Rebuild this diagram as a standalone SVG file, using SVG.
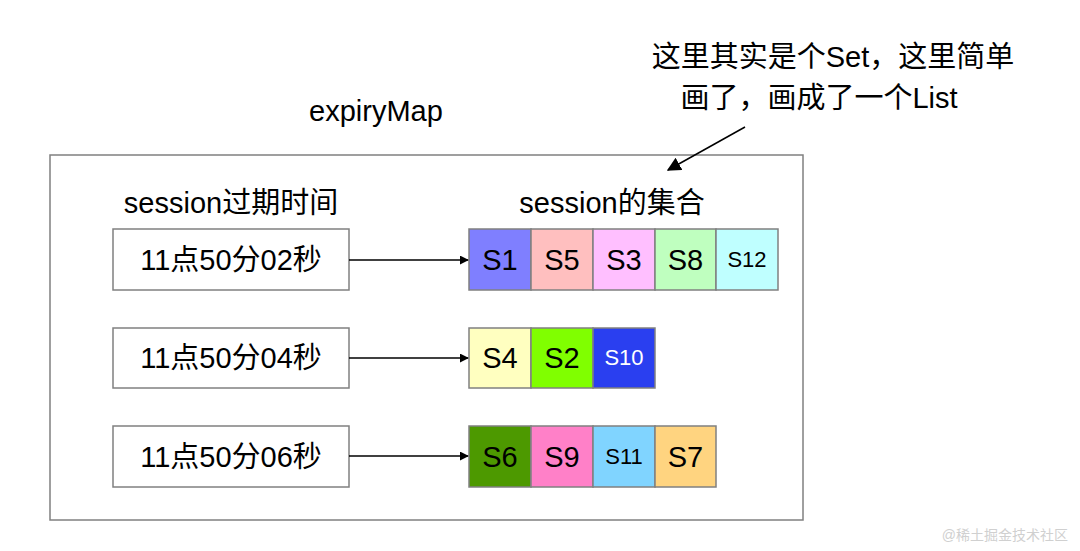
<svg xmlns="http://www.w3.org/2000/svg" width="1080" height="551" viewBox="0 0 1080 551">
<defs>
<style>
text{font-family:"Liberation Sans","Noto Sans CJK SC",sans-serif;fill:#000;}
.box{fill:#fff;stroke:#808080;stroke-width:1.5;}
.cell{stroke:#808080;stroke-width:1.5;}
.lbl{font-size:29px;text-anchor:middle;}
.cl{font-size:29px;text-anchor:middle;}
.cs{font-size:22px;text-anchor:middle;}
.conn{stroke:#000;stroke-width:1.5;fill:none;marker-end:url(#ah);}
</style>
<marker id="ah" viewBox="0 0 10 10" refX="9" refY="5" markerWidth="9" markerHeight="9" markerUnits="userSpaceOnUse" orient="auto"><path d="M0,0L10,5L0,10z" fill="#000"/></marker>
<marker id="ah2" viewBox="0 0 10 10" refX="9" refY="5" markerWidth="14" markerHeight="14" markerUnits="userSpaceOnUse" orient="auto"><path d="M0,0L10,5L0,10z" fill="#000"/></marker>
</defs>
<rect width="1080" height="551" fill="#fff"/>
<g id="expiryMap">
<rect x="50" y="155" width="753" height="365" fill="#fff" stroke="#808080" stroke-width="1.5"/>
<text class="lbl" x="376" y="121">expiryMap</text>
</g>
<g id="headers">
<text class="lbl" x="231" y="213">session过期时间</text>
<text class="lbl" x="612" y="213">session的集合</text>
</g>
<g id="note">
<text class="lbl" x="833" y="67">这里其实是个Set，这里简单</text>
<text class="lbl" x="819" y="108">画了，画成了一个List</text>
</g>
<g id="t1"><rect class="box" x="113" y="229" width="236" height="61"/><text class="lbl" x="231" y="270">11点50分02秒</text></g>
<g id="t2"><rect class="box" x="113" y="328" width="236" height="60"/><text class="lbl" x="231" y="368">11点50分04秒</text></g>
<g id="t3"><rect class="box" x="113" y="426" width="236" height="61"/><text class="lbl" x="231" y="467">11点50分06秒</text></g>
<g id="list1">
<rect class="cell" x="469" y="229" width="62" height="61" fill="#7f7fff"/><text class="cl" x="500" y="270">S1</text>
<rect class="cell" x="531" y="229" width="62" height="61" fill="#ffbfbf"/><text class="cl" x="562" y="270">S5</text>
<rect class="cell" x="593" y="229" width="62" height="61" fill="#ffbfff"/><text class="cl" x="624" y="270">S3</text>
<rect class="cell" x="655" y="229" width="61" height="61" fill="#bfffbf"/><text class="cl" x="685.5" y="270">S8</text>
<rect class="cell" x="716" y="229" width="62" height="61" fill="#bfffff"/><text class="cs" x="747" y="267">S12</text>
</g>
<g id="list2">
<rect class="cell" x="469" y="328" width="62" height="60" fill="#ffffc0"/><text class="cl" x="500" y="368">S4</text>
<rect class="cell" x="531" y="328" width="62" height="60" fill="#80ff00"/><text class="cl" x="562" y="368">S2</text>
<rect class="cell" x="593" y="328" width="62" height="60" fill="#2a3ff0"/><text class="cs" x="624" y="365" style="fill:#fff">S10</text>
</g>
<g id="list3">
<rect class="cell" x="469" y="426" width="62" height="61" fill="#4d9900"/><text class="cl" x="500" y="467">S6</text>
<rect class="cell" x="531" y="426" width="62" height="61" fill="#ff80c8"/><text class="cl" x="562" y="467">S9</text>
<rect class="cell" x="593" y="426" width="62" height="61" fill="#80d4ff"/><text class="cs" x="624" y="464">S11</text>
<rect class="cell" x="655" y="426" width="61" height="61" fill="#ffd480"/><text class="cl" x="685.5" y="467">S7</text>
</g>
<g id="connectors">
<line class="conn" x1="349" y1="260" x2="468" y2="260"/>
<line class="conn" x1="349" y1="358" x2="468" y2="358"/>
<line class="conn" x1="349" y1="456" x2="468" y2="456"/>
<line x1="745" y1="127" x2="668" y2="170" stroke="#000" stroke-width="1.5" marker-end="url(#ah2)"/>
</g>
<text x="1068" y="540" style="font-size:14px;fill:#d0d0d0;text-anchor:end">@稀土掘金技术社区</text>
</svg>
